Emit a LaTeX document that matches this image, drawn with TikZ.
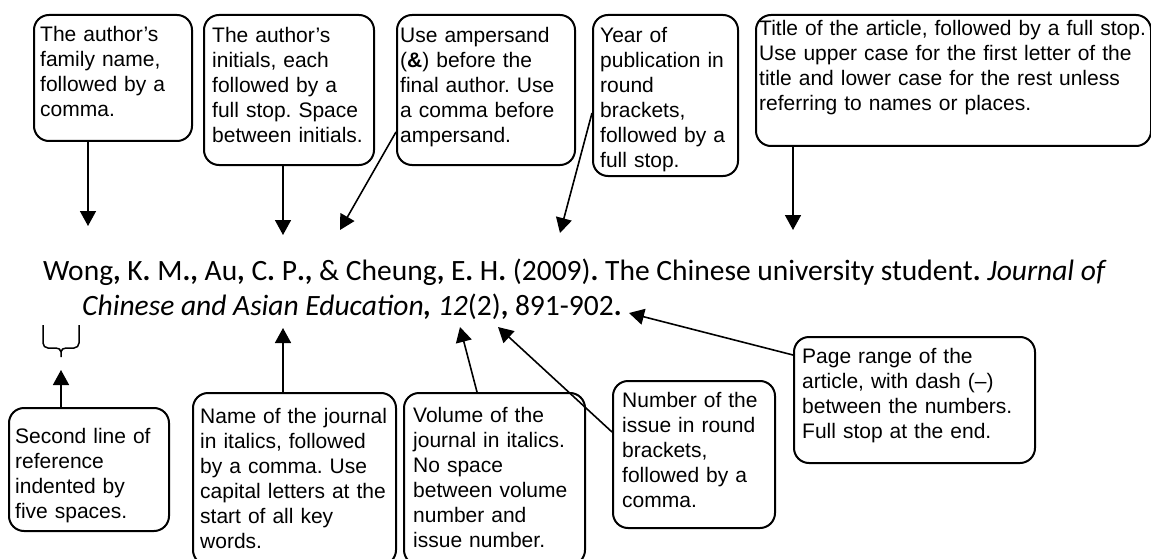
\documentclass[tikz,border=0pt]{standalone}
\usepackage{fontspec}
\setmainfont{Liberation Sans}
\newfontfamily\reffont{Carlito}
\usetikzlibrary{arrows.meta}
\usetikzlibrary{calc}
\usetikzlibrary{positioning}
\frenchspacing
% bold punctuation inside the reference
\newcommand\bc{\textbf{,}}
\newcommand\bp{\textbf{.}}
\tikzset{
    % Solid triangular heads as in the original handout
    >={Triangle[length=15pt, width=16pt]},
%
    % Rounded frame round each explanation
    note/.style={draw, line width=2pt, rounded corners=15pt,
        anchor=north west, inner sep=0pt},
%
    % The explanation itself, set from its first baseline
    note text/.style={anchor=base west, align=left, inner sep=0pt,
        font=\fontsize{21}{25}\selectfont},
%
    % Line from an explanation to the part of the reference
    pointer/.style={->, line width=1.6pt},
%
    % The reference lines
    reference/.style={anchor=base west, inner sep=0pt,
        font=\reffont\fontsize{29.5}{35}\selectfont}}

\begin{document}
\begin{tikzpicture}[x=1pt, y=-1pt]
\useasboundingbox (0,0) rectangle (1151,559);

% The reference, set over two lines with a hanging indent
\node[reference] (ref first) at (43,280)
    {Wong\bc{} K\bp{} M\bp\bc{} Au\bc{} C\bp{} P\bp\bc{} \& Cheung\bc{}
     E\bp{} H\bp{} (2009)\bp{} The Chinese university student\bp{}
     \textit{Journal of}};
\node[reference] (ref second) at (82,315)
    {\textit{Chinese and Asian Education\textbf{,} 12}(2)\bc{} 891-902\bp};

% Indent brace under the start of the second line
\draw[line width=1.5pt]
    (43,325) -- (43,343) to[out=-90, in=180] (48,348) -- (56,348)
    to[out=0, in=90] (61,352) -- (61,357)
    (79,325) -- (79,343) to[out=-90, in=0] (74,348) -- (66,348)
    to[out=180, in=90] (61,352);

% Explanations above the reference
\node[note, minimum width=158pt, minimum height=126pt] (surname) at (33,14) {};
\node[note text, text width=170pt] (surname text)
    at ($(surname.north west)+(7,28)$)
    {The author’s\\family name,\\followed by a\\comma.};

\node[note, minimum width=170pt, minimum height=150pt] (initials) at (203,14) {};
\node[note text, text width=180pt] (initials text)
    at ($(initials.north west)+(9,29)$)
    {The author’s\\initials, each\\followed by a\\full stop. Space\\between initials.};

\node[note, minimum width=178pt, minimum height=150pt] (amp) at (396,14) {};
\node[note text, text width=190pt] (amp text)
    at ($(amp.north west)+(4,29)$)
    {Use ampersand\\(\textbf{\&}) before the\\final author. Use\\a comma before\\ampersand.};

\node[note, minimum width=145pt, minimum height=161pt] (year) at (592,14) {};
\node[note text, text width=160pt] (year text)
    at ($(year.north west)+(8,29)$)
    {Year of\\publication in\\round\\brackets,\\followed by a\\full stop.};

\node[note, minimum width=395pt, minimum height=131pt] (title) at (755,14) {};
\node[note text, text width=420pt] (title text)
    at ($(title.north west)+(4,22)$)
    {Title of the article, followed by a full stop.\\
     Use upper case for the first letter of the\\
     title and lower case for the rest unless\\
     referring to names or places.};

% Explanations below the reference
\node[note, minimum width=160pt, minimum height=123pt] (indent) at (8,407) {};
\node[note text, text width=170pt] (indent text)
    at ($(indent.north west)+(7,36)$)
    {Second line of\\reference\\indented by\\five spaces.};

\node[note, minimum width=203pt, minimum height=172pt] (journal) at (192,392) {};
\node[note text, text width=215pt] (journal text)
    at ($(journal.north west)+(8,31)$)
    {Name of the journal\\in italics, followed\\by a comma. Use\\capital letters at the\\start of all key\\words.};

\node[note, minimum width=181pt, minimum height=172pt] (volume) at (403,392) {};
\node[note text, text width=190pt] (volume text)
    at ($(volume.north west)+(10,30)$)
    {Volume of the\\journal in italics.\\No space\\between volume\\number and\\issue number.};

\node[note, minimum width=162pt, minimum height=147pt] (issue) at (612,380) {};
\node[note text, text width=170pt] (issue text)
    at ($(issue.north west)+(10,27)$)
    {Number of the\\issue in round\\brackets,\\followed by a\\comma.};

\node[note, minimum width=241pt, minimum height=126pt] (pages) at (793,336) {};
\node[note text, text width=250pt] (pages text)
    at ($(pages.north west)+(9,27)$)
    {Page range of the\\article, with dash (–)\\between the numbers.\\Full stop at the end.};

% Points in the reference that the explanations refer to
\coordinate (surname pt) at (88,226);
\coordinate (initials pt) at (283,235);
\coordinate (amp pt) at (340,230);
\coordinate (year pt) at (560,233);
\coordinate (title pt) at (793,230);
\coordinate (indent pt) at (61,370);
\coordinate (journal pt) at (283,328);
\coordinate (volume pt) at (460,327);
\coordinate (issue pt) at (498,327);
\coordinate (pages pt) at (629,313);

\draw[pointer] (surname.south -| surname pt) -- (surname pt);
\draw[pointer] (initials.south -| initials pt) -- (initials pt);
\draw[pointer] ($(amp.north west)+(0,118)$) -- (amp pt);
\draw[pointer] ($(year.north west)+(0,99)$) -- (year pt);
\draw[pointer] (title.south -| title pt) -- (title pt);

\draw[pointer] (indent.north -| indent pt) -- (indent pt);
\draw[pointer] (journal.north -| journal pt) -- (journal pt);
\draw[pointer] ($(volume.north west)+(74,0)$) -- (volume pt);
\draw[pointer] ($(issue.north west)+(0,52)$) -- (issue pt);
\draw[pointer] ($(pages.north west)+(0,19)$) -- (pages pt);

\end{tikzpicture}
\end{document}
